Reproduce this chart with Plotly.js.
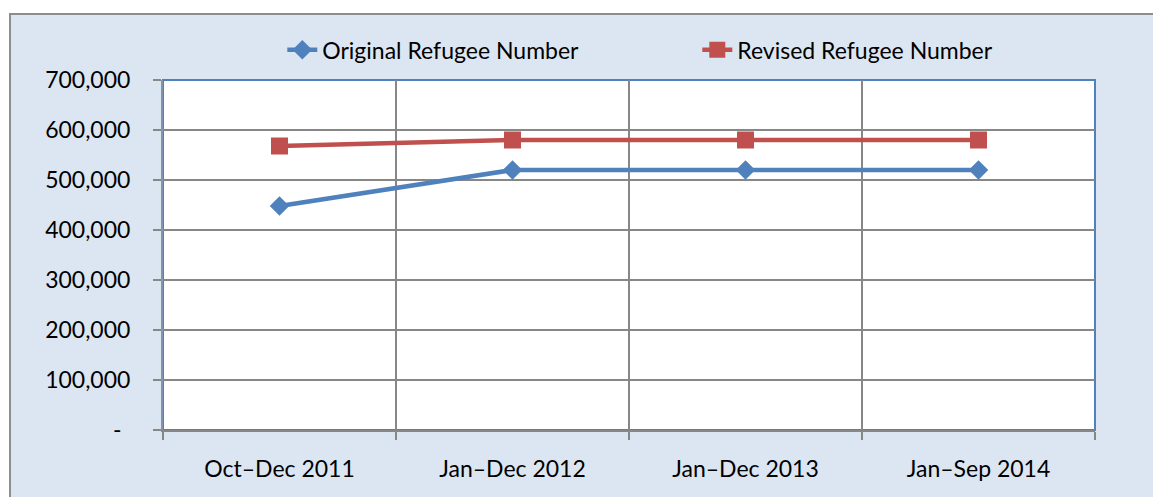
<!DOCTYPE html>
<html>
<head>
<meta charset="utf-8">
<script src="https://cdn.plot.ly/plotly-3.0.1.min.js"></script>
<style>
  html, body { margin: 0; padding: 0; background: #ffffff; overflow: hidden; }
  #chart { position: absolute; left: 9px; top: 13px; width: 1150px; height: 490px;
           border-left: 2px solid #8d8d8d; border-top: 2px solid #8d8d8d; }
</style>
</head>
<body>
<div id="chart"></div>
<script>
const categories = ['Oct–Dec 2011', 'Jan–Dec 2012', 'Jan–Dec 2013', 'Jan–Sep 2014'];
const originalRefugees = [448000, 520000, 520000, 520000];
const revisedRefugees = [568000, 580000, 580000, 580000];
const yTickVals = [0, 100000, 200000, 300000, 400000, 500000, 600000, 700000];
const yTickText = ['-\u00a0\u2009', '100,000', '200,000', '300,000', '400,000', '500,000', '600,000', '700,000'];

const FONT = 'Lato, "Open Sans", sans-serif';

const traces = [
  {
    x: categories, y: originalRefugees, name: 'Original Refugee Number',
    type: 'scatter', mode: 'lines+markers',
    line: { color: '#4f81bd', width: 4.5 },
    marker: { symbol: 'diamond', size: 15, color: '#4f81bd' }
  },
  {
    x: categories, y: revisedRefugees, name: 'Revised Refugee Number',
    type: 'scatter', mode: 'lines+markers',
    line: { color: '#c0504d', width: 4.5 },
    marker: { symbol: 'square', size: 17, color: '#c0504d' }
  }
];

const layout = {
  width: 1150, height: 490,
  margin: { l: 152, r: 66, t: 65, b: 75 },
  paper_bgcolor: '#dce6f2',
  plot_bgcolor: '#ffffff',
  font: { family: FONT, size: 23, color: '#000000' },
  showlegend: true,
  legend: {
    orientation: 'h', x: 0.128, xanchor: 'left', y: 1.086, yanchor: 'middle',
    font: { family: FONT, size: 23, color: '#000000' },
    bgcolor: 'rgba(0,0,0,0)', entrywidth: 370, traceorder: 'normal'
  },
  xaxis: {
    type: 'category', tickson: 'boundaries', range: [-0.5, 3.5],
    showgrid: true, gridcolor: '#878787', gridwidth: 1.5,
    showline: true, linecolor: '#878787', linewidth: 2,
    ticks: 'outside', ticklen: 8, tickcolor: '#878787', tickwidth: 1.5,
    ticklabelstandoff: 17,
    tickfont: { family: FONT, size: 23, color: '#000000' },
    fixedrange: true
  },
  yaxis: {
    range: [0, 700000],
    tickvals: yTickVals, ticktext: yTickText,
    showgrid: true, gridcolor: '#878787', gridwidth: 1.5,
    zeroline: false,
    showline: true, linecolor: '#7f93b3', linewidth: 2,
    ticks: 'outside', ticklen: 8, tickcolor: '#878787', tickwidth: 1.5,
    ticklabelstandoff: 18,
    tickfont: { family: FONT, size: 23, color: '#000000' },
    fixedrange: true
  },
  shapes: [
    { type: 'rect', xref: 'paper', yref: 'paper', x0: 0, x1: 1, y0: 0, y1: 1,
      line: { color: '#4f81bd', width: 2 }, fillcolor: 'rgba(0,0,0,0)', layer: 'below' }
  ]
};

Plotly.newPlot('chart', traces, layout, { displayModeBar: false, staticPlot: true });
</script>
</body>
</html>
